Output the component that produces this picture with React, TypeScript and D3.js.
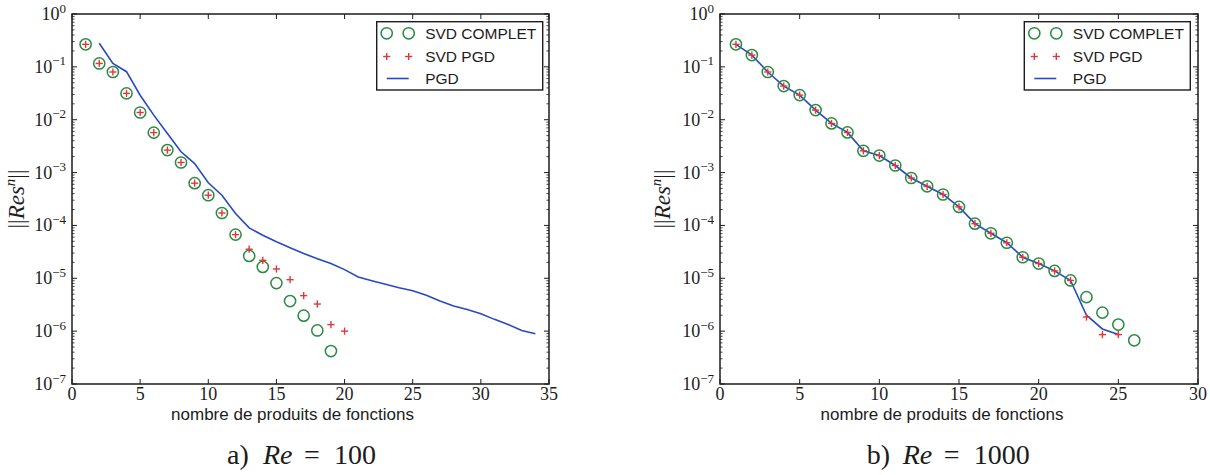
import React from "react";
import * as d3 from "d3";

// ---------- data ----------
const yTickExps = [0, -1, -2, -3, -4, -5, -6, -7];

// Panel a) Re = 100
const nCompletA = [1, 2, 3, 4, 5, 6, 7, 8, 9, 10, 11, 12, 13, 14, 15, 16, 17, 18, 19];
const svdCompletA = [0.267, 0.116, 0.08, 0.0315, 0.0137, 0.0057, 0.00266, 0.00155, 0.00063, 0.000373, 0.000172, 6.7e-5, 2.65e-5, 1.64e-5, 8.1e-6, 3.7e-6, 1.96e-6, 1.03e-6, 4.2e-7];
const nSvdPgdA = [1, 2, 3, 4, 5, 6, 7, 8, 9, 10, 11, 12, 13, 14, 15, 16, 17, 18, 19, 20];
const svdPgdA = [0.267, 0.116, 0.08, 0.0315, 0.0137, 0.0057, 0.00266, 0.00155, 0.00063, 0.000373, 0.000172, 6.7e-5, 3.55e-5, 2.19e-5, 1.5e-5, 9.4e-6, 4.7e-6, 3.26e-6, 1.33e-6, 1.0e-6];
const nPgdA = [2, 3, 4, 5, 6, 7, 8, 9, 10, 11, 12, 13, 14, 15, 16, 17, 18, 19, 20, 21, 22, 23, 24, 25, 26, 27, 28, 29, 30, 31, 32, 33, 34];
const pgdA = [0.279, 0.116, 0.081, 0.029, 0.0122, 0.0055, 0.00247, 0.00148, 0.00064, 0.000373, 0.000168, 9.0e-5, 6.5e-5, 4.9e-5, 3.8e-5, 2.95e-5, 2.35e-5, 1.9e-5, 1.46e-5, 1.06e-5, 9.0e-6, 7.7e-6, 6.6e-6, 5.8e-6, 4.77e-6, 3.7e-6, 3.0e-6, 2.56e-6, 2.14e-6, 1.67e-6, 1.34e-6, 1.03e-6, 8.9e-7];
const xTicksA = [0, 5, 10, 15, 20, 25, 30, 35];

// Panel b) Re = 1000
const nCompletB = [1, 2, 3, 4, 5, 6, 7, 8, 9, 10, 11, 12, 13, 14, 15, 16, 17, 18, 19, 20, 21, 22, 23, 24, 25, 26];
const svdCompletB = [0.267, 0.167, 0.08, 0.0433, 0.0292, 0.0152, 0.0085, 0.00575, 0.00258, 0.0021, 0.00136, 0.00079, 0.00055, 0.000385, 0.000224, 0.000108, 7.1e-5, 4.7e-5, 2.5e-5, 1.9e-5, 1.38e-5, 9.1e-6, 4.4e-6, 2.24e-6, 1.33e-6, 6.7e-7];
const nSvdPgdB = [1, 2, 3, 4, 5, 6, 7, 8, 9, 10, 11, 12, 13, 14, 15, 16, 17, 18, 19, 20, 21, 22, 23, 24, 25];
const svdPgdB = [0.267, 0.167, 0.08, 0.0433, 0.0292, 0.0152, 0.0085, 0.00575, 0.00258, 0.0021, 0.00136, 0.00079, 0.00055, 0.000385, 0.000224, 0.000108, 7.1e-5, 4.7e-5, 2.5e-5, 1.9e-5, 1.38e-5, 9.1e-6, 1.85e-6, 8.6e-7, 8.6e-7];
const nPgdB = [1, 2, 3, 4, 5, 6, 7, 8, 9, 10, 11, 12, 13, 14, 15, 16, 17, 18, 19, 20, 21, 22, 23, 24, 25];
const pgdB = [0.267, 0.167, 0.08, 0.0433, 0.0292, 0.0152, 0.0085, 0.00575, 0.00258, 0.0021, 0.00136, 0.00079, 0.00055, 0.000385, 0.000224, 0.000108, 7.1e-5, 4.7e-5, 2.5e-5, 1.9e-5, 1.38e-5, 9.1e-6, 2.0e-6, 1.1e-6, 8.6e-7];
const xTicksB = [0, 5, 10, 15, 20, 25, 30];

const legendLabels = ["SVD COMPLET", "SVD PGD", "PGD"];
const xLabel = "nombre de produits de fonctions";

// ---------- styles ----------
const GREEN = "#2a8a42";
const RED = "#e0383a";
const BLUE = "#2848c4";
const INK = "#1c1c1c";
const SERIF = "'Liberation Serif', 'DejaVu Serif', serif";
const SANS = "'Liberation Sans', Arial, sans-serif";

const TOP = 14;
const BOTTOM = 384;

function Plus({ x, y }) {
  const s = 3.6;
  return (
    <g stroke={RED} strokeWidth={1.4}>
      <line x1={x - s} x2={x + s} y1={y} y2={y} />
      <line x1={x} x2={x} y1={y - s} y2={y + s} />
    </g>
  );
}

function Panel(props) {
  const { left, right, xMax, xTicks, nC, vC, nS, vS, nP, vP, legendX, ylabelX, xlabelCx, captionX, tag, re } = props;
  const x = d3.scaleLinear().domain([0, xMax]).range([left, right]);
  const y = d3.scaleLog().domain([1e-7, 1]).range([BOTTOM, TOP]);
  const line = d3
    .line()
    .x((d) => x(d[0]))
    .y((d) => y(d[1]));
  const pgdPts = nP.map((n, i) => [n, vP[i]]);

  const minor = [];
  for (let e = -7; e < 0; e++) {
    for (let m = 2; m <= 9; m++) minor.push(m * Math.pow(10, e));
  }
  const majLen = 5;
  const minLen = 2.6;

  const legTop = 21.7;
  const legH = 68.3;
  const legW = 166;
  const rows = [33.3, 56.5, 78.5];

  return (
    <g>
      {/* data */}
      <path d={line(pgdPts)} fill="none" stroke={BLUE} strokeWidth={1.6} />
      {nC.map((n, i) => (
        <circle key={"c" + i} cx={x(n)} cy={y(vC[i])} r={5.6} fill="none" stroke={GREEN} strokeWidth={1.5} />
      ))}
      {nS.map((n, i) => (
        <Plus key={"p" + i} x={x(n)} y={y(vS[i])} />
      ))}

      {/* frame */}
      <rect x={left} y={TOP} width={right - left} height={BOTTOM - TOP} fill="none" stroke={INK} strokeWidth={1.5} />

      {/* y ticks */}
      {yTickExps.map((e) => {
        const yy = y(Math.pow(10, e));
        return (
          <g key={"yt" + e}>
            <line x1={left} x2={left + majLen} y1={yy} y2={yy} stroke={INK} strokeWidth={1} />
            <line x1={right} x2={right - majLen} y1={yy} y2={yy} stroke={INK} strokeWidth={1} />
            <text x={left - 6} y={yy + 6} textAnchor="end" fontFamily={SERIF} fontSize={18} fill={INK}>
              10
              <tspan dy={-7.5} fontSize={13}>
                {e === 0 ? "0" : "\u2212" + Math.abs(e)}
              </tspan>
            </text>
          </g>
        );
      })}
      {minor.map((v, i) => {
        const yy = y(v);
        return (
          <g key={"ym" + i} stroke={INK} strokeWidth={0.8}>
            <line x1={left} x2={left + minLen} y1={yy} y2={yy} />
            <line x1={right} x2={right - minLen} y1={yy} y2={yy} />
          </g>
        );
      })}

      {/* x ticks */}
      {xTicks.map((t) => {
        const xx = x(t);
        return (
          <g key={"xt" + t}>
            <line x1={xx} x2={xx} y1={BOTTOM} y2={BOTTOM - majLen} stroke={INK} strokeWidth={1} />
            <line x1={xx} x2={xx} y1={TOP} y2={TOP + majLen} stroke={INK} strokeWidth={1} />
            <text x={xx} y={400} textAnchor="middle" fontFamily={SERIF} fontSize={18} fill={INK}>
              {t}
            </text>
          </g>
        );
      })}

      {/* axis labels */}
      <text x={xlabelCx} y={420} textAnchor="middle" fontFamily={SANS} fontSize={17} fill={INK}>
        {xLabel}
      </text>
      <text
        transform={`translate(${ylabelX + 7},${(TOP + BOTTOM) / 2}) rotate(-90)`}
        textAnchor="middle"
        fontFamily={SERIF}
        fontSize={23}
        fill={INK}
      >
        ||<tspan fontStyle="italic">Res</tspan>
        <tspan fontStyle="italic" fontSize={15} dy={-9}>n</tspan>
        <tspan dy={9}>||</tspan>
      </text>

      {/* legend */}
      <rect x={legendX} y={legTop} width={legW} height={legH} fill="#fff" stroke={INK} strokeWidth={1.4} />
      <circle cx={legendX + 10} cy={rows[0]} r={5.6} fill="none" stroke={GREEN} strokeWidth={1.5} />
      <circle cx={legendX + 32} cy={rows[0]} r={5.6} fill="none" stroke={GREEN} strokeWidth={1.5} />
      <Plus x={legendX + 10} y={rows[1]} />
      <Plus x={legendX + 32} y={rows[1]} />
      <line x1={legendX + 10} x2={legendX + 32} y1={rows[2]} y2={rows[2]} stroke={BLUE} strokeWidth={1.6} />
      {legendLabels.map((l, i) => (
        <text key={l} x={legendX + 48.5} y={rows[i] + 5.5} fontFamily={SANS} fontSize={15.5} fill={INK}>
          {l}
        </text>
      ))}

      {/* caption */}
      <g fontFamily={SERIF} fontSize={28} fill={INK}>
        <text x={captionX} y={464}>{tag}</text>
        <text x={captionX + 36} y={464} fontStyle="italic">Re</text>
        <text x={captionX + 77} y={464}>=</text>
        <text x={captionX + 107} y={464}>{re}</text>
      </g>
    </g>
  );
}

export default function App() {
  return (
    <svg
      width={1210}
      height={475}
      style={{ position: "absolute", left: 0, top: 0, background: "#fff" }}
    >
      <rect x={0} y={0} width={1210} height={475} fill="#fff" />
      <Panel
        left={72}
        right={549}
        xMax={35}
        xTicks={xTicksA}
        nC={nCompletA}
        vC={svdCompletA}
        nS={nSvdPgdA}
        vS={svdPgdA}
        nP={nPgdA}
        vP={pgdA}
        legendX={376.7}
        ylabelX={17}
        xlabelCx={292.5}
        captionX={227}
        tag="a)"
        re="100"
      />
      <Panel
        left={720}
        right={1198}
        xMax={30}
        xTicks={xTicksB}
        nC={nCompletB}
        vC={svdCompletB}
        nS={nSvdPgdB}
        vS={svdPgdB}
        nP={nPgdB}
        vP={pgdB}
        legendX={1024.3}
        ylabelX={663}
        xlabelCx={942}
        captionX={866.7}
        tag="b)"
        re="1000"
      />
    </svg>
  );
}
